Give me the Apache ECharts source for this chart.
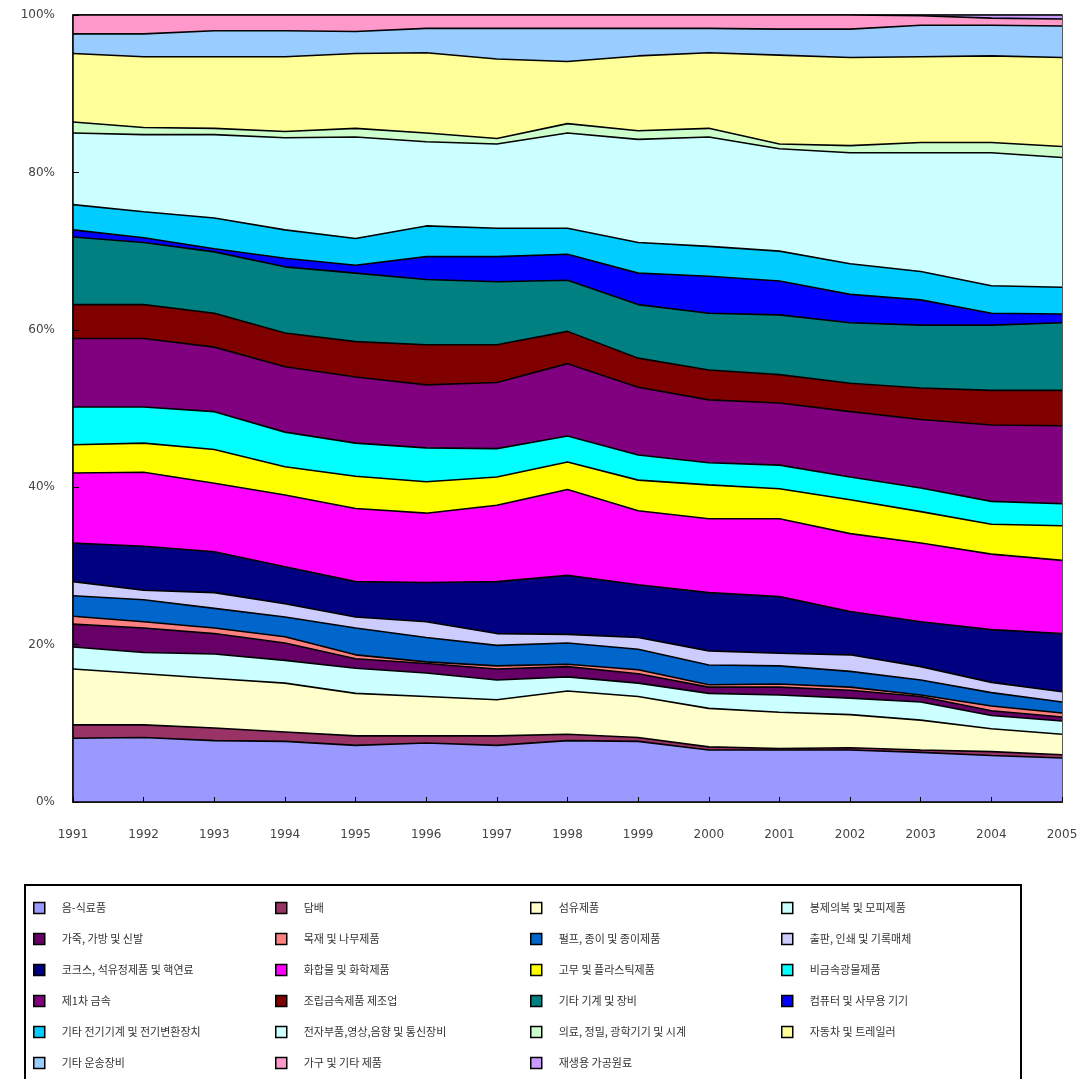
<!DOCTYPE html>
<html>
<head>
<meta charset="utf-8">
<script src="https://cdn.jsdelivr.net/npm/echarts@6/dist/echarts.min.js"></script>
<style>
  html, body { margin: 0; padding: 0; background: #fff; }
  #chart { width: 1089px; height: 1079px; }
</style>
</head>
<body>
<div id="chart"></div>
<script>
let years = ["1991", "1992", "1993", "1994", "1995", "1996", "1997", "1998", "1999", "2000", "2001", "2002", "2003", "2004", "2005"];
let yTicks = ["0%", "20%", "40%", "60%", "80%", "100%"];

// shares (%) per industry, bottom of stack first
let food = [8.1, 8.2, 7.8, 7.7, 7.2, 7.5, 7.2, 7.8, 7.7, 6.6, 6.6, 6.6, 6.3, 5.9, 5.6];
let tobacco = [1.7, 1.6, 1.6, 1.2, 1.2, 0.9, 1.2, 0.8, 0.5, 0.4, 0.2, 0.3, 0.3, 0.5, 0.4];
let textile = [7.1, 6.5, 6.3, 6.2, 5.4, 5.0, 4.6, 5.5, 5.2, 4.9, 4.6, 4.2, 3.8, 2.9, 2.6];
let apparel = [2.8, 2.7, 3.1, 2.9, 3.2, 3.0, 2.5, 1.8, 1.7, 1.9, 2.2, 2.1, 2.3, 1.7, 1.7];
let leather = [2.9, 3.1, 2.6, 2.2, 1.2, 1.2, 1.4, 1.3, 1.2, 0.8, 1.0, 1.0, 0.7, 0.6, 0.5];
let wood = [1.0, 0.8, 0.7, 0.8, 0.5, 0.2, 0.4, 0.3, 0.5, 0.3, 0.4, 0.4, 0.2, 0.6, 0.5];
let pulp = [2.6, 2.8, 2.5, 2.5, 3.4, 3.1, 2.6, 2.7, 2.6, 2.5, 2.3, 2.0, 1.9, 1.7, 1.4];
let printing = [1.8, 1.2, 2.0, 1.7, 1.4, 2.0, 1.5, 1.1, 1.5, 1.8, 1.6, 2.1, 1.7, 1.3, 1.3];
let coke = [4.9, 5.6, 5.2, 4.7, 4.5, 5.0, 6.6, 7.5, 6.7, 7.4, 7.2, 5.5, 5.7, 6.7, 7.4];
let chemical = [8.9, 9.4, 8.7, 9.1, 9.3, 8.8, 9.7, 10.9, 9.4, 9.4, 9.9, 9.9, 10.0, 9.6, 9.3];
let rubber = [3.6, 3.7, 4.3, 3.6, 4.1, 4.0, 3.6, 3.5, 3.9, 4.3, 3.8, 4.3, 4.0, 3.8, 4.4];
let mineral = [4.8, 4.6, 4.8, 4.4, 4.2, 4.3, 3.6, 3.3, 3.2, 2.8, 3.0, 2.9, 3.0, 2.9, 2.8];
let metal = [8.7, 8.7, 8.2, 8.3, 8.4, 8.0, 8.4, 9.2, 8.6, 8.0, 7.9, 8.3, 8.7, 9.7, 9.9];
let fabMetal = [4.3, 4.3, 4.3, 4.3, 4.5, 5.1, 4.8, 4.1, 3.7, 3.8, 3.6, 3.6, 4.0, 4.4, 4.5];
let machinery = [8.6, 7.9, 7.8, 8.4, 8.7, 8.3, 8.0, 6.5, 6.8, 7.2, 7.6, 7.7, 8.0, 8.3, 8.6];
let computer = [0.9, 0.6, 0.4, 1.1, 1.0, 2.9, 3.2, 3.3, 4.0, 4.7, 4.3, 3.6, 3.2, 1.5, 1.1];
let electrical = [3.2, 3.3, 3.9, 3.6, 3.4, 3.9, 3.6, 3.3, 3.9, 3.8, 3.8, 3.9, 3.6, 3.5, 3.4];
let electronic = [9.1, 9.8, 10.6, 11.7, 12.9, 10.7, 10.7, 12.1, 13.1, 13.9, 13.0, 14.1, 15.1, 16.9, 16.5];
let medical = [1.4, 0.9, 0.8, 0.8, 1.1, 1.1, 0.7, 1.2, 1.1, 1.1, 0.6, 0.9, 1.3, 1.3, 1.4];
let motor = [8.7, 9.0, 9.1, 9.5, 9.5, 10.2, 10.1, 7.9, 9.5, 9.6, 11.3, 11.2, 10.9, 11.0, 11.3];
let transport = [2.5, 2.9, 3.3, 3.3, 2.8, 3.1, 3.9, 4.2, 3.5, 3.1, 3.3, 3.6, 4.0, 3.9, 4.0];
let furniture = [2.4, 2.4, 2.0, 2.0, 2.1, 1.7, 1.7, 1.7, 1.7, 1.7, 1.8, 1.8, 1.2, 0.9, 0.9];
let recycling = [0, 0, 0, 0, 0, 0, 0, 0, 0, 0, 0, 0, 0.1, 0.4, 0.5];

let names = [
  "음-식료품", "담배", "섬유제품", "봉제의복 및 모피제품",
  "가죽, 가방 및 신발", "목재 및 나무제품", "펄프, 종이 및 종이제품", "출판, 인쇄 및 기록매체",
  "코크스, 석유정제품 및 핵연료", "화합물 및 화학제품", "고무 및 플라스틱제품", "비금속광물제품",
  "제1차 금속", "조립금속제품 제조업", "기타 기계 및 장비", "컴퓨터 및 사무용 기기",
  "기타 전기기계 및 전기변환장치", "전자부품,영상,음향 및 통신장비", "의료, 정밀, 광학기기 및 시계", "자동차 및 트레일러",
  "기타 운송장비", "가구 및 기타 제품", "재생용 가공원료"
];
let values = [food, tobacco, textile, apparel, leather, wood, pulp, printing, coke, chemical,
  rubber, mineral, metal, fabMetal, machinery, computer, electrical, electronic, medical,
  motor, transport, furniture, recycling];
let colors = [
  "#9999FF", "#993366", "#FFFFCC", "#CCFFFF",
  "#660066", "#FF8080", "#0066CC", "#CCCCFF",
  "#000080", "#FF00FF", "#FFFF00", "#00FFFF",
  "#800080", "#800000", "#008080", "#0000FF",
  "#00CCFF", "#CCFFFF", "#CCFFCC", "#FFFF99",
  "#99CCFF", "#FF99CC", "#CC99FF"
];

function toPercent(list) {
  let totals = [];
  for (let i = 0; i < years.length; i++) {
    let sum = 0;
    for (let j = 0; j < list.length; j++) {
      sum += list[j][i];
    }
    totals.push(sum);
  }
  return list.map(function (arr) {
    return arr.map(function (v, i) {
      return (v / totals[i]) * 100;
    });
  });
}

function buildSeries() {
  let pct = toPercent(values);
  let result = [];
  for (let i = 0; i < names.length; i++) {
    result.push({
      name: names[i],
      type: "line",
      stack: "total",
      data: pct[i],
      showSymbol: false,
      symbol: "none",
      z: 40 - i,
      color: colors[i],
      itemStyle: { color: colors[i] },
      lineStyle: { color: "#000", width: 1.6 },
      areaStyle: { color: colors[i], opacity: 1 },
      emphasis: { disabled: true },
    });
  }
  return result;
}

function buildLegends() {
  let lefts = [28, 270, 525, 776];
  let legends = [];
  for (let c = 0; c < 4; c++) {
    let data = [];
    for (let i = c; i < names.length; i += 4) {
      data.push(names[i]);
    }
    legends.push({
      orient: "vertical",
      left: lefts[c],
      top: 895,
      height: 240,
      itemGap: 15,
      itemWidth: 11,
      itemHeight: 11,
      icon: "rect",
      selectedMode: false,
      data: data,
      itemStyle: { borderColor: "#000", borderWidth: 1.5 },
      textStyle: {
        fontFamily: "Noto Sans CJK KR",
        fontSize: 11,
        lineHeight: 16,
        color: "#333",
        padding: [0, 0, 0, 12],
      },
    });
  }
  return legends;
}

function createGraph(id) {
  var dom = document.getElementById(id);
  var myChart = echarts.init(dom, null, {
    renderer: "canvas",
    useDirtyRect: false,
  });
  var option = {
    animation: false,
    backgroundColor: "#fff",
    grid: {
      left: 73,
      right: 27,
      top: 15,
      bottom: 277,
      show: true,
      borderColor: "#222",
      borderWidth: 1.5,
    },
    legend: buildLegends(),
    graphic: [
      {
        type: "rect",
        shape: { x: 25, y: 885, width: 996, height: 210 },
        style: { fill: "none", stroke: "#000", lineWidth: 2 },
        z: 1,
      },
    ],
    xAxis: {
      type: "category",
      data: years,
      boundaryGap: false,
      axisLine: { lineStyle: { color: "#000", width: 1.5 } },
      axisTick: { inside: true, length: 5, lineStyle: { color: "#000" } },
      axisLabel: {
        margin: 27,
        fontFamily: "DejaVu Sans",
        fontSize: 12,
        color: "#444",
      },
      splitLine: { show: false },
      z: 50,
    },
    yAxis: {
      type: "value",
      min: 0,
      max: 100,
      interval: 20,
      axisLine: { show: true, lineStyle: { color: "#000", width: 1.5 } },
      axisTick: { show: true, inside: true, length: 6, lineStyle: { color: "#000" } },
      axisLabel: {
        margin: 18,
        fontFamily: "DejaVu Sans",
        fontSize: 12,
        color: "#444",
        formatter: function (v) {
          return yTicks[Math.round(v / 20)];
        },
      },
      splitLine: { show: false },
      z: 50,
    },
    series: buildSeries(),
  };
  myChart.setOption(option);
  window.addEventListener("resize", myChart.resize);
}

createGraph("chart");
</script>
</body>
</html>
